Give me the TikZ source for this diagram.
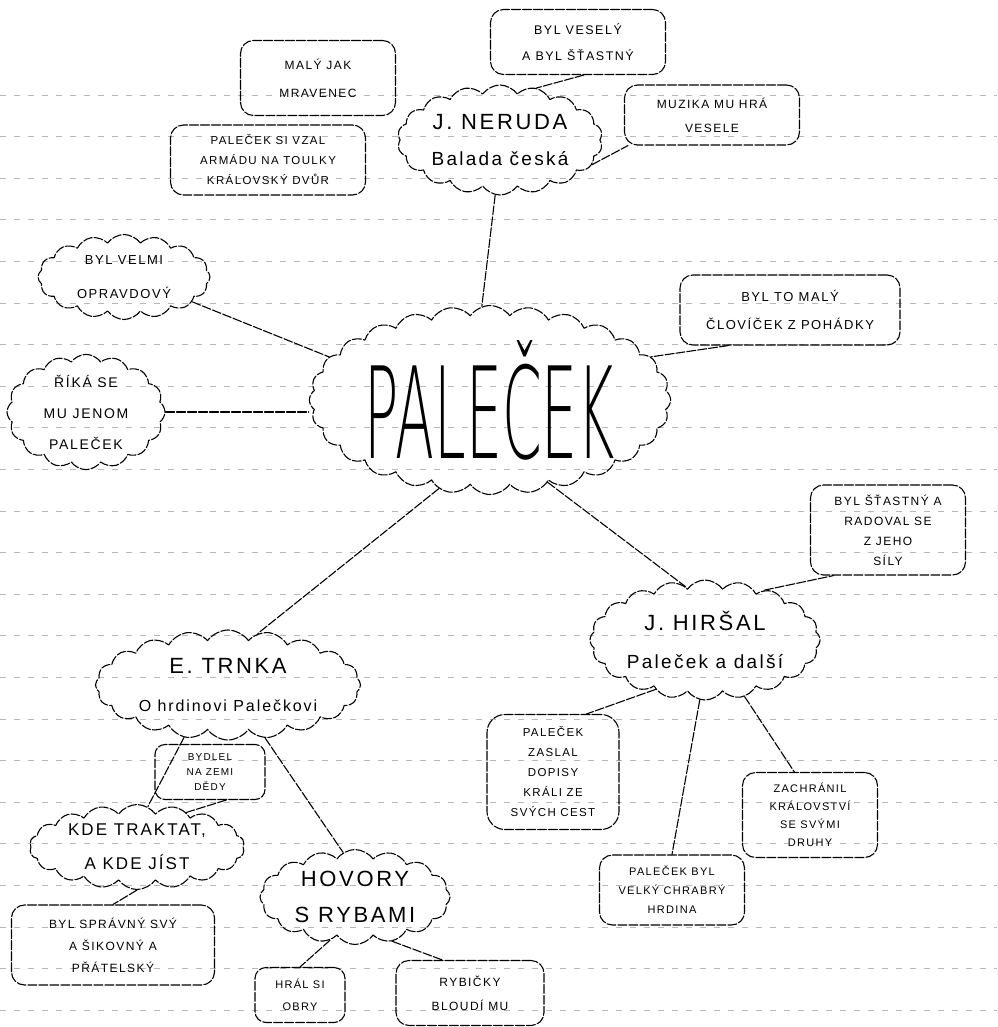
\documentclass[tikz,border=0pt]{standalone}
\usepackage{fontspec}
\usepackage{graphicx}
\setmainfont{Liberation Sans}
\newfontfamily\hand{Liberation Sans}[LetterSpace=12]
\newfontfamily\thinfont{DejaVu Sans}[UprightFont={* ExtraLight}]
\usetikzlibrary{shapes.symbols}
\tikzset{
  stroke/.style={draw=black, line width=1.1pt, line cap=round, line join=round, dash pattern=on 9pt off 2pt},
  puff/.style={stroke, cloud, cloud puffs=#1, cloud puff arc=110, cloud ignores aspect, align=center, inner sep=0pt},
  rbox/.style={stroke, rectangle, rounded corners=13pt, align=center, inner sep=0pt},
  ruled/.style={draw=black!28, line width=0.8pt, dash pattern=on 6pt off 8pt},
  link/.style={stroke}
}
\newcommand{\fs}[2]{\hand\fontsize{#1}{#2}\selectfont}
\newcommand{\sub}[1]{{\fontsize{#1}{#1}\selectfont}}
\begin{document}
\begin{tikzpicture}[x=1pt,y=-1pt]
\useasboundingbox (0,0) rectangle (997,1027);
% notebook ruling
\foreach \k in {0,...,22}{
  \draw[ruled] (0,{95+41.6*\k}) -- (997,{95+41.6*\k});
}
% central cloud
\node[puff=28, minimum width=350, minimum height=185] (pal) at (490,400)
  {\resizebox{250pt}{118pt}{\thinfont PALEČEK}};
% Neruda
\node[puff=18, minimum width=205, minimum height=110, font=\fs{22}{36}] (ner) at (500,140)
  {J. NERUDA\\ {\fontsize{19}{36}\selectfont Balada česká}};
\node[rbox, minimum width=155, minimum height=75, font=\fs{12}{28}] (b1) at (318,78) {MALÝ JAK\\ MRAVENEC};
\node[rbox, minimum width=175, minimum height=65, font=\fs{12.5}{26}] (b2) at (578,42) {BYL VESELÝ\\ A BYL ŠŤASTNÝ};
\node[rbox, minimum width=175, minimum height=60, font=\fs{12}{24}] (b3) at (712,115) {MUZIKA MU HRÁ\\ VESELE};
\node[rbox, minimum width=195, minimum height=70, font=\fs{11.5}{20}] (b4) at (268,160) {PALEČEK SI VZAL\\ ARMÁDU NA TOULKY\\ KRÁLOVSKÝ DVŮR};
% left side
\node[puff=16, minimum width=172, minimum height=85, font=\fs{13}{34}] (c1) at (124,277) {BYL VELMI\\ OPRAVDOVÝ};
\node[puff=16, minimum width=158, minimum height=115, font=\fs{14}{31}] (c2) at (86,412) {ŘÍKÁ SE\\ MU JENOM\\ PALEČEK};
% right
\node[rbox, minimum width=220, minimum height=70, font=\fs{13}{28}] (b5) at (790,310) {BYL TO MALÝ\\ ČLOVÍČEK Z POHÁDKY};
% Trnka
\node[puff=20, minimum width=265, minimum height=110, font=\fs{22}{38}] (trn) at (228,685)
  {E. TRNKA\\ {\fontsize{16}{38}\selectfont O hrdinovi Palečkovi}};
\node[rbox, minimum width=110, minimum height=55, rounded corners=10pt, font=\fs{10}{15}] (b10) at (210,772) {BYDLEL\\ NA ZEMI\\ DĚDY};
\node[puff=18, minimum width=215, minimum height=85, font=\fs{17}{34}] (kde) at (137,847) {KDE TRAKTAT,\\ A KDE JÍST};
\node[rbox, minimum width=203, minimum height=80, font=\fs{12}{22}] (b11) at (113,945) {BYL SPRÁVNÝ SVÝ\\ A ŠIKOVNÝ A\\ PŘÁTELSKÝ};
\node[puff=16, minimum width=190, minimum height=95, font=\fs{22}{36}] (hov) at (355,897) {HOVORY\\ S RYBAMI};
\node[rbox, minimum width=90, minimum height=55, rounded corners=11pt, font=\fs{11}{22}] (b12) at (300,995) {HRÁL SI\\ OBRY};
\node[rbox, minimum width=148, minimum height=65, font=\fs{12}{24}] (b13) at (470,993) {RYBIČKY\\ BLOUDÍ MU};
% Hirsal
\node[puff=20, minimum width=230, minimum height=120, font=\fs{22}{38}] (hir) at (705,640)
  {J. HIRŠAL\\ {\fontsize{19}{38}\selectfont Paleček a další}};
\node[rbox, minimum width=155, minimum height=90, font=\fs{12}{20}] (b6) at (888,530) {BYL ŠŤASTNÝ A\\ RADOVAL SE\\ Z JEHO\\ SÍLY};
\node[rbox, minimum width=132, minimum height=115, rounded corners=18pt, font=\fs{11.5}{20}] (b7) at (553,772) {PALEČEK\\ ZASLAL\\ DOPISY\\ KRÁLI ZE\\ SVÝCH CEST};
\node[rbox, minimum width=145, minimum height=70, font=\fs{11}{19}] (b8) at (672,890) {PALEČEK BYL\\ VELKÝ CHRABRÝ\\ HRDINA};
\node[rbox, minimum width=135, minimum height=85, font=\fs{11}{18}] (b9) at (810,815) {ZACHRÁNIL\\ KRÁLOVSTVÍ\\ SE SVÝMI\\ DRUHY};
% connectors
\draw[link] (ner.-95) -- (pal.95);
\draw[link] (b2.-80) -- (ner.55);
\draw[link] (ner.-15) -- (b3.-160);
\draw[link] (c1.-20) -- (pal.165);
\draw[link] (c2.east) -- (c2.east -| pal.west);
\draw[link] (b5.-150) -- (pal.15);
\draw[link] (pal.-120) -- (trn.60);
\draw[link] (pal.-55) -- (hir.110);
\draw[link] (hir.40) -- (b6.-140);
\draw[link] (hir.-135) -- (b7.60);
\draw[link] (hir.-95) -- (b8.north);
\draw[link] (hir.-55) -- (b9.110);
\draw[link] (trn.-130) -- (kde.75);
\draw[link] (b10.-60) -- (kde.35);
\draw[link] (kde.south) -- (b11.north);
\draw[link] (trn.-55) -- (hov.105);
\draw[link] (hov.-120) -- (b12.north);
\draw[link] (hov.-50) -- (b13.130);
\end{tikzpicture}
\end{document}
